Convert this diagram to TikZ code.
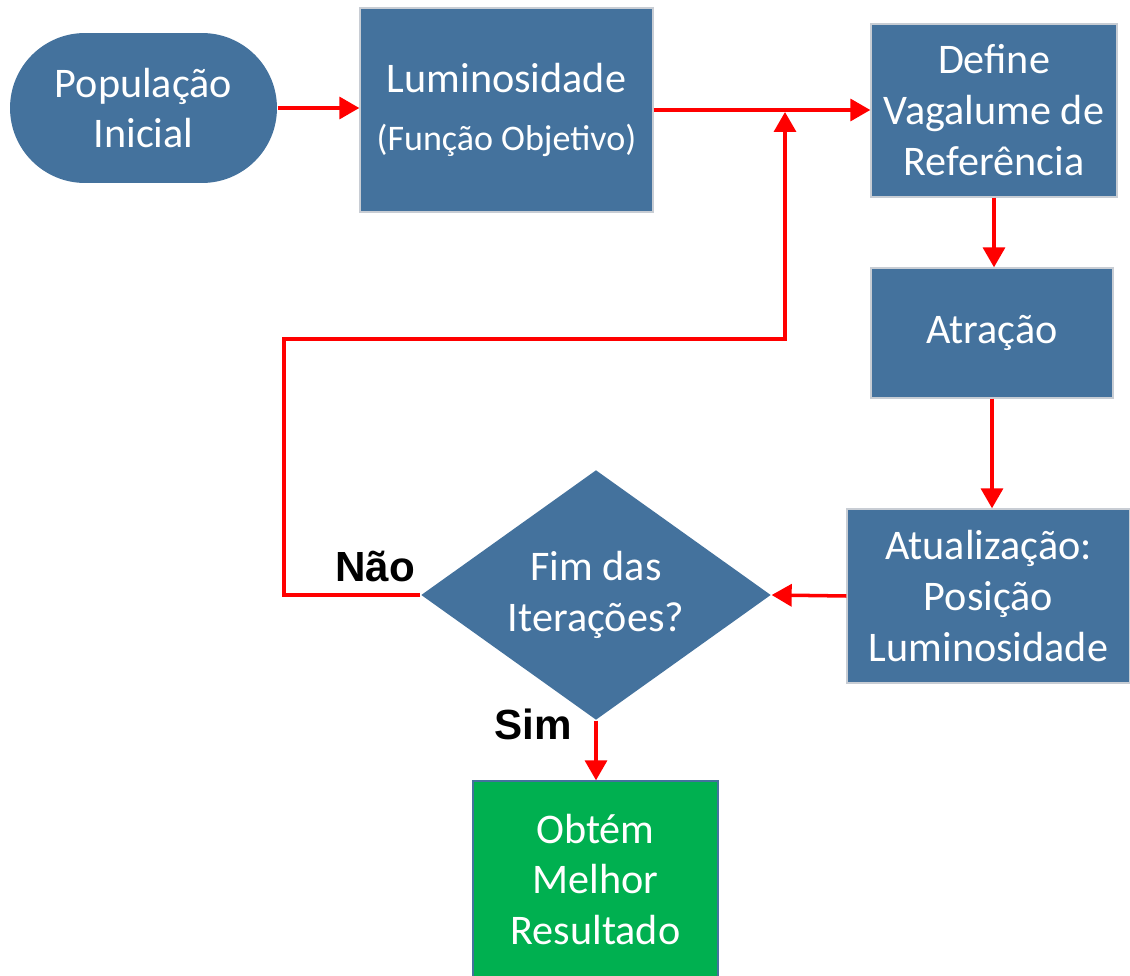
\documentclass[tikz,border=0pt]{standalone}
\usepackage{fontspec}
\setmainfont{Carlito}
\newfontfamily\labfont{Liberation Sans}
\usetikzlibrary{shapes.geometric,arrows.meta}
\definecolor{boxblue}{RGB}{68,114,157}
\definecolor{boxgreen}{RGB}{0,176,80}
\definecolor{boxedge}{RGB}{200,205,212}
\tikzset{
  x=0.02cm, y=-0.02cm,
  box/.style={draw=boxedge, line width=0.8pt, fill=boxblue, text=white, align=center, inner sep=0pt,
    font=\fontsize{24}{29}\selectfont},
  arr/.style={draw=red, line width=2pt, -{Triangle[length=0.4cm,width=0.44cm]}},
  lab/.style={font=\labfont\bfseries\fontsize{24}{28}\selectfont, text=black, inner sep=0pt}
}
\begin{document}
\begin{tikzpicture}
\useasboundingbox (0,0) rectangle (1130,976);
\node[box, draw=none, minimum width=5.34cm, minimum height=3cm, rounded corners=1.5cm] (pop) at (143.5,108) {População\\Inicial};
\node[box, minimum width=5.86cm, minimum height=4.08cm] (lum) at (506.5,110) {Luminosidade\\[4pt]{\fontsize{20.5}{25}\selectfont(Função Objetivo)}};
\node[box, minimum width=4.92cm, minimum height=3.46cm] (def) at (994,110.5) {Define\\Vagalume de\\Referência};
\node[box, minimum width=4.84cm, minimum height=2.6cm] (atr) at (992,333) {Atração};
\node[box, minimum width=5.66cm, minimum height=3.48cm] (atu) at (988.5,596) {Atualização:\\Posição\\Luminosidade};
\node[box, diamond, draw=none, aspect=1.4, minimum width=7cm, minimum height=5cm] (dia) at (596,595) {Fim das\\Iterações?};
\node[box, fill=boxgreen, draw=boxblue, minimum width=4.9cm, minimum height=3.94cm] (obt) at (595.5,879.5) {Obtém\\Melhor\\Resultado};

\coordinate (c1) at (284,339);
\coordinate (j) at (785,112);

\draw[arr] (pop.east) -- (pop.east -| lum.west);
\draw[arr] (lum.east) -- (lum.east -| def.west);
\draw[arr] (dia.west) -| (c1) -| (j);
\draw[arr] (def.south) -- (def.south |- atr.north);
\draw[arr] (atr.south) -- (atr.south |- atu.north);
\draw[arr] (atu.west) -- (dia.east);
\draw[arr] (dia.south) -- (dia.south |- obt.north);

\node[lab] (nao) at (375,567) {Não};
\node[lab] (sim) at (533,724) {Sim};
\end{tikzpicture}
\end{document}
